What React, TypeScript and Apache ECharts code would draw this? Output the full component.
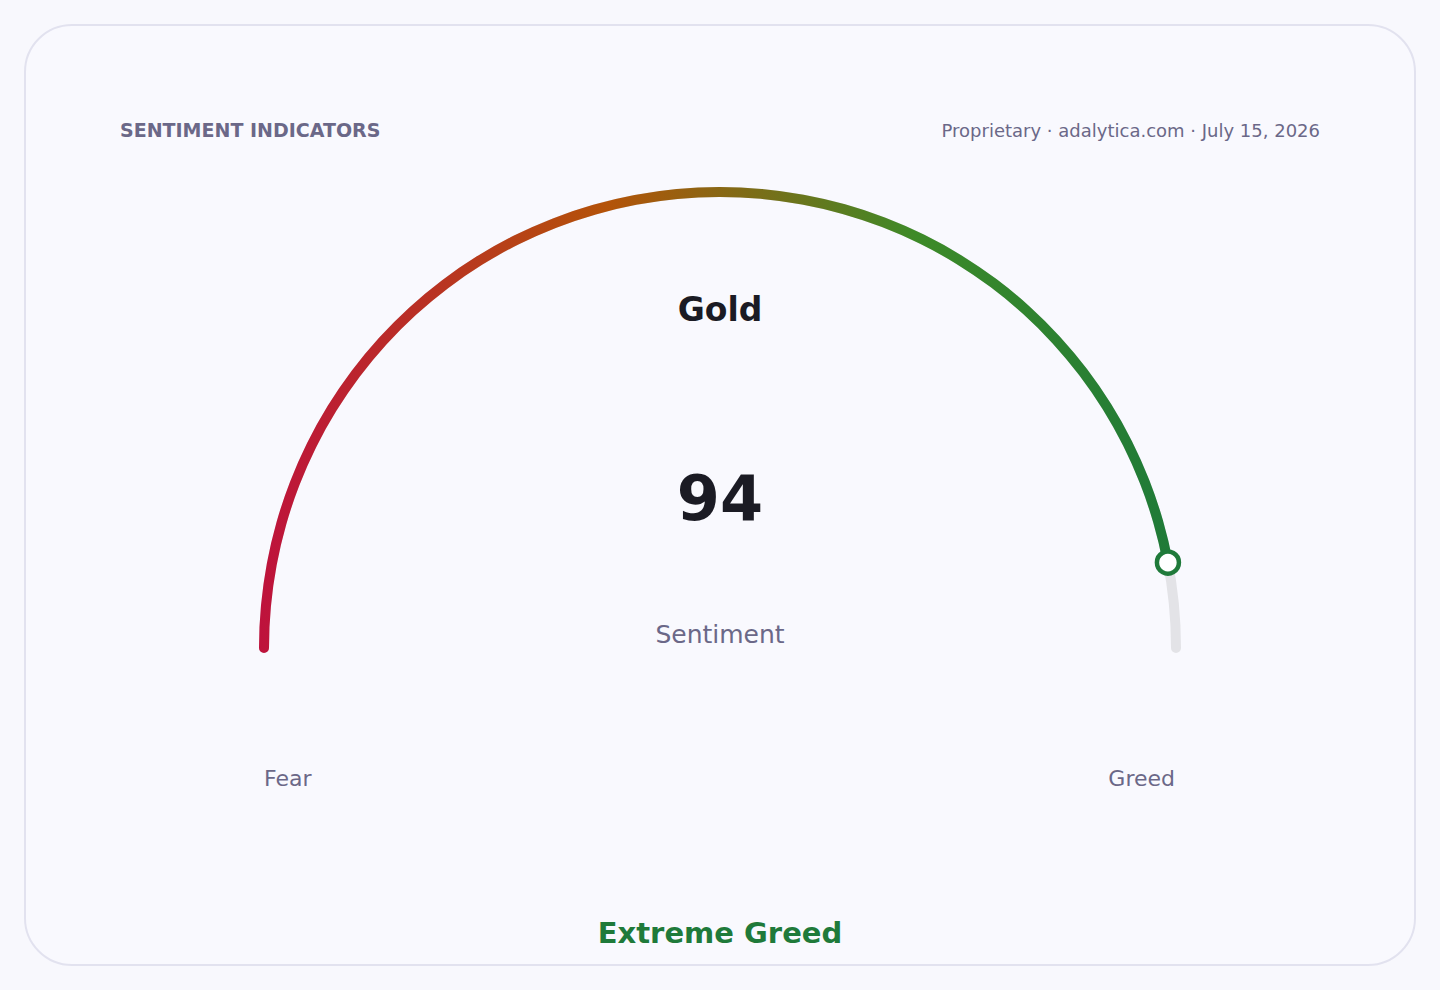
import React, { useEffect, useRef } from "react";
import * as echarts from "echarts";

const headerTitle = "SENTIMENT INDICATORS";
const headerSource = "Proprietary · adalytica.com · July 15, 2026";
const assetName = "Gold";
const metricName = "Sentiment";
const sentimentValue = 94;
const scaleMin = 0;
const scaleMax = 100;
const scaleLabels = ["Fear", "Greed"];
const verdict = "Extreme Greed";

const FONT = "'DejaVu Sans', Verdana, sans-serif";
const MUTED = "#6b6888";
const DARK = "#1b1b24";
const GREEN = "#1f7a3a";

export default function App() {
  const ref = useRef<HTMLDivElement>(null);

  useEffect(() => {
    if (!ref.current) return;
    const chart = echarts.init(ref.current, null, { renderer: "svg" });
    const cx = 720;
    const cy = 648;
    const r = 456;
    const band = 10;

    const gradient = new echarts.graphic.LinearGradient(0, 0, 1, 0, [
      { offset: 0, color: "#be123c" },
      { offset: 0.38, color: "#b45309" },
      { offset: 0.72, color: "#3d8a28" },
      { offset: 1, color: "#1f7a38" },
    ]);

    chart.setOption({
      animation: false,
      backgroundColor: "transparent",
      polar: { center: [cx, cy], radius: r },
      angleAxis: {
        type: "value",
        min: scaleMin,
        max: scaleMin + (scaleMax - scaleMin) * 2,
        startAngle: 180,
        clockwise: true,
        show: false,
      },
      radiusAxis: { type: "value", min: 0, max: 1, show: false },
      graphic: [
        {
          type: "text",
          x: 120,
          y: 130,
          style: {
            text: headerTitle,
            font: `bold 19px ${FONT}`,
            fill: MUTED,
            textAlign: "left",
            textVerticalAlign: "middle",
          },
        },
        {
          type: "text",
          x: 1320,
          y: 130,
          style: {
            text: headerSource,
            font: `18px ${FONT}`,
            fill: MUTED,
            textAlign: "right",
            textVerticalAlign: "middle",
          },
        },
        {
          type: "text",
          x: cx,
          y: 309,
          style: {
            text: assetName,
            font: `bold 33px ${FONT}`,
            fill: DARK,
            textAlign: "center",
            textVerticalAlign: "middle",
          },
        },
        {
          type: "text",
          x: cx - r,
          y: 778,
          style: {
            text: scaleLabels[0],
            font: `22px ${FONT}`,
            fill: MUTED,
            textAlign: "left",
            textVerticalAlign: "middle",
          },
        },
        {
          type: "text",
          x: cx + r - 1,
          y: 778,
          style: {
            text: scaleLabels[1],
            font: `22px ${FONT}`,
            fill: MUTED,
            textAlign: "right",
            textVerticalAlign: "middle",
          },
        },
        {
          type: "text",
          x: cx,
          y: 933,
          style: {
            text: verdict,
            font: `bold 29px ${FONT}`,
            fill: GREEN,
            textAlign: "center",
            textVerticalAlign: "middle",
          },
        },
      ],
      series: [
        {
          type: "gauge",
          center: [cx, cy],
          radius: r + band / 2,
          startAngle: 180,
          endAngle: 0,
          min: scaleMin,
          max: scaleMax,
          z: 2,
          axisLine: {
            roundCap: true,
            lineStyle: { width: band, color: [[1, "#e3e3e7"]] },
          },
          progress: {
            show: true,
            roundCap: true,
            width: band,
            itemStyle: { color: gradient },
          },
          pointer: { show: false },
          anchor: { show: false },
          axisTick: { show: false },
          splitLine: { show: false },
          axisLabel: { show: false },
          title: {
            offsetCenter: [0, -14],
            fontSize: 25,
            color: MUTED,
            fontFamily: FONT,
          },
          detail: {
            offsetCenter: [0, -150],
            fontSize: 62,
            fontWeight: "bold",
            color: DARK,
            fontFamily: FONT,
            formatter: "{value}",
          },
          data: [{ value: sentimentValue, name: metricName }],
        },
        {
          type: "scatter",
          coordinateSystem: "polar",
          z: 5,
          symbol: "circle",
          symbolSize: 22,
          itemStyle: {
            color: "#ffffff",
            borderColor: GREEN,
            borderWidth: 4.5,
            opacity: 1,
          },
          silent: true,
          data: [[1, sentimentValue]],
        },
      ],
    });
    return () => chart.dispose();
  }, []);

  return (
    <div
      style={{
        position: "fixed",
        left: 0,
        top: 0,
        width: 1440,
        height: 990,
        background: "#f8f8fd",
      }}
    >
      <div
        style={{
          position: "absolute",
          left: 24,
          top: 24,
          width: 1392,
          height: 942,
          boxSizing: "border-box",
          border: "2px solid #e2e2ef",
          borderRadius: 48,
          background: "#f9f9fe",
        }}
      />
      <div
        ref={ref}
        style={{ position: "absolute", left: 0, top: 0, width: 1440, height: 990 }}
      />
    </div>
  );
}
